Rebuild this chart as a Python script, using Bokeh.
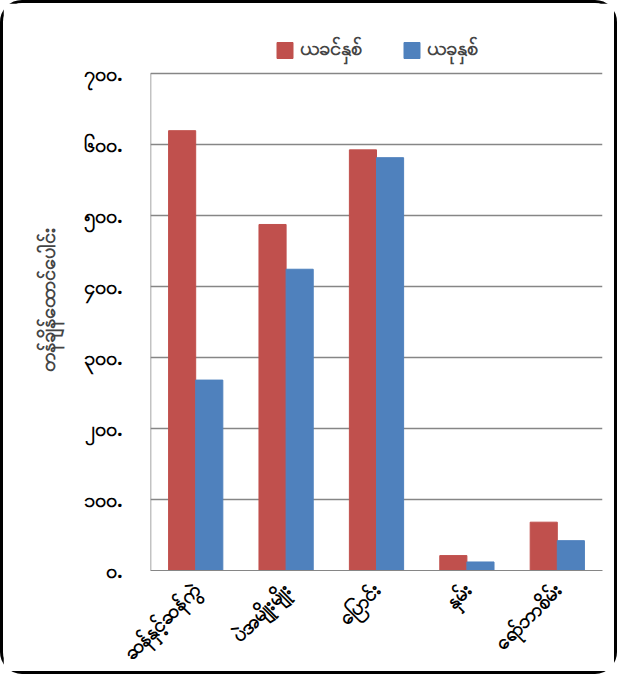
from math import pi
import numpy as np

from bokeh.plotting import figure
from bokeh.models import ColumnDataSource, FixedTicker, Legend, LegendItem
from bokeh.transform import dodge
from bokeh.embed import file_html
from bokeh.resources import INLINE

categories = ["ဆန်နှင့်ဆန်ကွဲ", "ပဲအမျိုးမျိုး", "ပြောင်း", "နှမ်း", "ရော်ဘာစိမ်း"]
series_names = ["ယခင်နှစ်", "ယခုနှစ်"]
previous_year = [619, 487, 592, 21, 68]
this_year = [268, 424, 581, 12, 42]
tick_values = [0, 100, 200, 300, 400, 500, 600, 700]
tick_labels = ["၀.", "၁၀၀.", "၂၀၀.", "၃၀၀.", "၄၀၀.", "၅၀၀.", "၆၀၀.", "၇၀၀."]
y_title = "တန်ချိန်ထောင်ပေါင်း"

colors = ["#c0504d", "#4f81bd"]
grey = "#868686"
font = "Noto Sans"

src = ColumnDataSource(dict(cat=categories, prev=previous_year, cur=this_year))

# extra headroom above the top tick holds the legend inside the frame
p = figure(x_range=categories, y_range=(0, 760), width=617, height=674,
           output_backend="svg", toolbar_location=None,
           min_border_left=147, min_border_right=18, min_border_top=27,
           min_border_bottom=30, outline_line_color=None)
p.styles = {"border": "3px solid black", "border-radius": "22px"}

r1 = p.vbar(x=dodge("cat", -0.15, range=p.x_range), top="prev", width=0.3,
            source=src, color=colors[0])
r2 = p.vbar(x=dodge("cat", 0.15, range=p.x_range), top="cur", width=0.3,
            source=src, color=colors[1])

# y axis line, only up to the last tick
axis_src = ColumnDataSource(dict(c=[categories[0]], y0=[0], y1=[tick_values[-1]]))
p.segment(x0=dodge("c", -0.5, range=p.x_range), y0="y0",
          x1=dodge("c", -0.5, range=p.x_range), y1="y1",
          source=axis_src, line_color=grey, line_width=1.5)

legend = Legend(items=[LegendItem(label=series_names[0], renderers=[r1]),
                       LegendItem(label=series_names[1], renderers=[r2])],
                orientation="horizontal", location="top_center",
                border_line_color=None, background_fill_alpha=0,
                label_text_font=font,
                label_text_font_size="20px", label_text_font_style="bold",
                glyph_width=20, glyph_height=20, spacing=40, margin=4)
p.add_layout(legend, "center")

p.yaxis.ticker = FixedTicker(ticks=tick_values)
p.yaxis.major_label_overrides = dict(zip(tick_values, tick_labels))
p.yaxis.axis_label = y_title
p.yaxis.axis_label_text_font = font
p.yaxis.axis_label_text_font_size = "20px"
p.yaxis.axis_label_text_font_style = "bold"
p.yaxis.axis_label_standoff = 20
p.yaxis.axis_line_color = None
p.yaxis.major_tick_line_color = None
p.yaxis.minor_tick_line_color = None
p.yaxis.major_label_standoff = 22
for ax in (p.xaxis, p.yaxis):
    ax.major_label_text_font = font
    ax.major_label_text_font_size = "20px"
    ax.major_label_text_font_style = "bold"
    ax.major_label_text_color = "black"

p.xaxis.axis_line_color = grey
p.xaxis.major_tick_line_color = None
p.xaxis.major_label_orientation = pi / 4
p.xaxis.major_label_standoff = 10

p.xgrid.grid_line_color = None
p.ygrid.grid_line_color = grey
p.ygrid.grid_line_width = 1.5

open("out.html", "w").write(file_html(p, INLINE))
